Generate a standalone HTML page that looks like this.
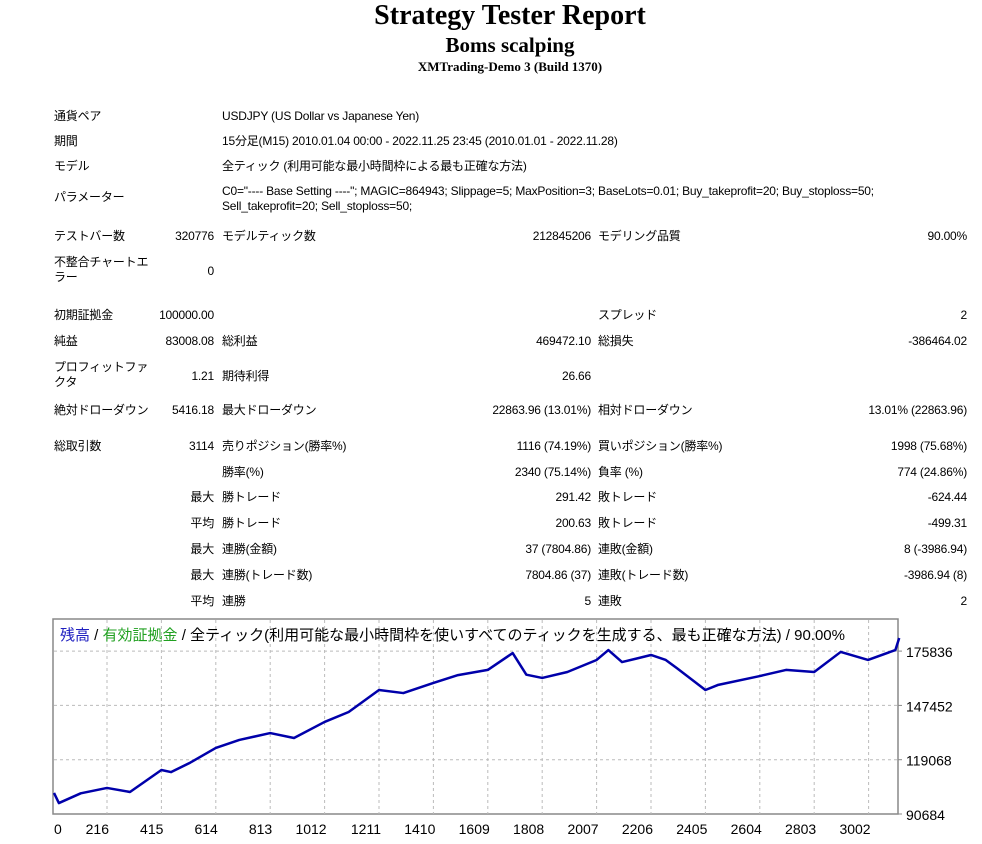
<!DOCTYPE html>
<html><head><meta charset="utf-8">
<style>
html,body{margin:0;width:982px;height:844px;overflow:hidden}
body{background:#fff;position:relative;font-family:"Liberation Sans","Noto Sans CJK JP",sans-serif;font-size:12px;color:#000}
.t{position:absolute;left:38px;width:944px;text-align:center;font-family:"Liberation Serif","Noto Serif CJK SC",serif;font-weight:bold}
.c{position:absolute;white-space:nowrap;letter-spacing:-0.2px;line-height:15px}
.r{text-align:right}
</style></head><body>
<div class="t" style="top:0;font-size:28px;line-height:32px">Strategy Tester Report</div>
<div class="t" style="top:33px;font-size:21px;line-height:24px">Boms scalping</div>
<div class="t" style="top:59px;font-size:13px;line-height:16px">XMTrading-Demo 3 (Build 1370)</div>

<div>
<span class="c" style="left:54px;top:109px">通貨ペア</span>
<span class="c" style="left:222px;top:109px">USDJPY (US Dollar vs Japanese Yen)</span>
<span class="c" style="left:54px;top:134px">期間</span>
<span class="c" style="left:222px;top:134px">15分足(M15) 2010.01.04 00:00 - 2022.11.25 23:45 (2010.01.01 - 2022.11.28)</span>
<span class="c" style="left:54px;top:159px">モデル</span>
<span class="c" style="left:222px;top:159px">全ティック (利用可能な最小時間枠による最も正確な方法)</span>
<span class="c" style="left:54px;top:190px">パラメーター</span>
<span class="c" style="left:222px;top:184px">C0="---- Base Setting ----"; MAGIC=864943; Slippage=5; MaxPosition=3; BaseLots=0.01; Buy_takeprofit=20; Buy_stoploss=50;<br>Sell_takeprofit=20; Sell_stoploss=50;</span>

<span class="c" style="left:54px;top:229px">テストバー数</span>
<span class="c r" style="left:140px;width:74px;top:229px">320776</span>
<span class="c" style="left:222px;top:229px">モデルティック数</span>
<span class="c r" style="left:440px;width:151px;top:229px">212845206</span>
<span class="c" style="left:598px;top:229px">モデリング品質</span>
<span class="c r" style="left:820px;width:147px;top:229px">90.00%</span>

<span class="c" style="left:54px;top:255px">不整合チャートエ<br>ラー</span>
<span class="c r" style="left:140px;width:74px;top:264px">0</span>

<span class="c" style="left:54px;top:308px">初期証拠金</span>
<span class="c r" style="left:140px;width:74px;top:308px">100000.00</span>
<span class="c" style="left:598px;top:308px">スプレッド</span>
<span class="c r" style="left:820px;width:147px;top:308px">2</span>

<span class="c" style="left:54px;top:334px">純益</span>
<span class="c r" style="left:140px;width:74px;top:334px">83008.08</span>
<span class="c" style="left:222px;top:334px">総利益</span>
<span class="c r" style="left:440px;width:151px;top:334px">469472.10</span>
<span class="c" style="left:598px;top:334px">総損失</span>
<span class="c r" style="left:820px;width:147px;top:334px">-386464.02</span>

<span class="c" style="left:54px;top:360px">プロフィットファ<br>クタ</span>
<span class="c r" style="left:140px;width:74px;top:369px">1.21</span>
<span class="c" style="left:222px;top:369px">期待利得</span>
<span class="c r" style="left:440px;width:151px;top:369px">26.66</span>

<span class="c" style="left:54px;top:403px">絶対ドローダウン</span>
<span class="c r" style="left:140px;width:74px;top:403px">5416.18</span>
<span class="c" style="left:222px;top:403px">最大ドローダウン</span>
<span class="c r" style="left:440px;width:151px;top:403px">22863.96 (13.01%)</span>
<span class="c" style="left:598px;top:403px">相対ドローダウン</span>
<span class="c r" style="left:820px;width:147px;top:403px">13.01% (22863.96)</span>

<span class="c" style="left:54px;top:439px">総取引数</span>
<span class="c r" style="left:140px;width:74px;top:439px">3114</span>
<span class="c" style="left:222px;top:439px">売りポジション(勝率%)</span>
<span class="c r" style="left:440px;width:151px;top:439px">1116 (74.19%)</span>
<span class="c" style="left:598px;top:439px">買いポジション(勝率%)</span>
<span class="c r" style="left:820px;width:147px;top:439px">1998 (75.68%)</span>

<span class="c" style="left:222px;top:465px">勝率(%)</span>
<span class="c r" style="left:440px;width:151px;top:465px">2340 (75.14%)</span>
<span class="c" style="left:598px;top:465px">負率 (%)</span>
<span class="c r" style="left:820px;width:147px;top:465px">774 (24.86%)</span>

<span class="c r" style="left:140px;width:74px;top:490px">最大</span>
<span class="c" style="left:222px;top:490px">勝トレード</span>
<span class="c r" style="left:440px;width:151px;top:490px">291.42</span>
<span class="c" style="left:598px;top:490px">敗トレード</span>
<span class="c r" style="left:820px;width:147px;top:490px">-624.44</span>

<span class="c r" style="left:140px;width:74px;top:516px">平均</span>
<span class="c" style="left:222px;top:516px">勝トレード</span>
<span class="c r" style="left:440px;width:151px;top:516px">200.63</span>
<span class="c" style="left:598px;top:516px">敗トレード</span>
<span class="c r" style="left:820px;width:147px;top:516px">-499.31</span>

<span class="c r" style="left:140px;width:74px;top:542px">最大</span>
<span class="c" style="left:222px;top:542px">連勝(金額)</span>
<span class="c r" style="left:440px;width:151px;top:542px">37 (7804.86)</span>
<span class="c" style="left:598px;top:542px">連敗(金額)</span>
<span class="c r" style="left:820px;width:147px;top:542px">8 (-3986.94)</span>

<span class="c r" style="left:140px;width:74px;top:568px">最大</span>
<span class="c" style="left:222px;top:568px">連勝(トレード数)</span>
<span class="c r" style="left:440px;width:151px;top:568px">7804.86 (37)</span>
<span class="c" style="left:598px;top:568px">連敗(トレード数)</span>
<span class="c r" style="left:820px;width:147px;top:568px">-3986.94 (8)</span>

<span class="c r" style="left:140px;width:74px;top:594px">平均</span>
<span class="c" style="left:222px;top:594px">連勝</span>
<span class="c r" style="left:440px;width:151px;top:594px">5</span>
<span class="c" style="left:598px;top:594px">連敗</span>
<span class="c r" style="left:820px;width:147px;top:594px">2</span>
</div>

<svg id="chart" width="982" height="844" style="position:absolute;left:0;top:0" xmlns="http://www.w3.org/2000/svg"></svg>
<script>
const trades = [0,40,120,216,300,415,450,520,614,700,813,900,1012,1100,1211,1300,1410,1500,1609,1700,1750,1808,1900,2007,2050,2100,2206,2260,2300,2405,2450,2604,2700,2803,2900,3000,3100,3114];
const balance = [101.7,96.4,101.5,104.3,102.2,113.7,112.6,117.5,125.2,129.4,133.0,130.4,138.8,144.0,155.5,153.9,159.2,163.3,166.0,174.8,163.5,161.8,164.9,171.2,176.4,170.1,173.8,171.2,167.0,155.5,158.1,162.8,166.0,164.9,175.4,171.2,176.4,182.7];
const xTicks = [0,216,415,614,813,1012,1211,1410,1609,1808,2007,2206,2405,2604,2803,3002];
const yTicks = [90684,119068,147452,175836];

const svg = document.getElementById('chart');
const NS = 'http://www.w3.org/2000/svg';
const L=53, R=898, T=619, B=814;
const X = t => Math.max(L+1, 107 + (t - 216) * 54.4 / 199);
const Y = v => 814 - (v * 1000 - 90684) / 28384 * 54.3;
const Yt = v => 814 - (v - 90684) / 28384 * 54.3;
function mk(tag, attrs){ const e=document.createElementNS(NS,tag); for(const k in attrs) e.setAttribute(k,attrs[k]); svg.appendChild(e); return e; }

const frame = mk('rect',{x:L,y:T,width:R-L,height:B-T,fill:'#fff',stroke:'#888','stroke-width':1.5});



xTicks.forEach(t=>{
  const gx = X(t);
  if(t>0){
    const g=mk('line',{x1:gx,x2:gx,y1:T+1,y2:B,stroke:'#bbb','stroke-dasharray':'3,3'});
    
    
  }
  const tx=mk('text',{x:t===0?54:gx+2,y:834,'text-anchor':t===0?'start':'end','font-size':14,'font-family':'Liberation Sans, sans-serif',fill:'#000'});
  tx.textContent=t;
  
  
});
yTicks.forEach(v=>{
  const gy=Yt(v);
  if(v>yTicks[0]){
    const g=mk('line',{x1:L+1,x2:R,y1:gy,y2:gy,stroke:'#bbb','stroke-dasharray':'3,3'});
    
    
  }
  const tk=mk('line',{x1:R,x2:R+4,y1:gy,y2:gy,stroke:'#888'});
  
  
  const tx=mk('text',{x:906,y:gy+6,'font-size':14,'font-family':'Liberation Sans, sans-serif',fill:'#000'});
  tx.textContent=v;
  
  
});

const line=mk('polyline',{points:trades.map((t,i)=>X(t)+','+Y(balance[i])).join(' '),fill:'none',stroke:'#0000aa','stroke-width':2.5,'stroke-linejoin':'round'});



const title=mk('text',{x:60,y:640,'font-size':15,'font-family':'Liberation Sans, Noto Sans CJK JP, sans-serif'});


title.innerHTML='<tspan fill="#2020c0">残高</tspan><tspan fill="#000"> / </tspan><tspan fill="#20a020">有効証拠金</tspan><tspan fill="#000"> / 全ティック(利用可能な最小時間枠を使いすべてのティックを生成する、最も正確な方法) / 90.00%</tspan>';
</script>
</body></html>
